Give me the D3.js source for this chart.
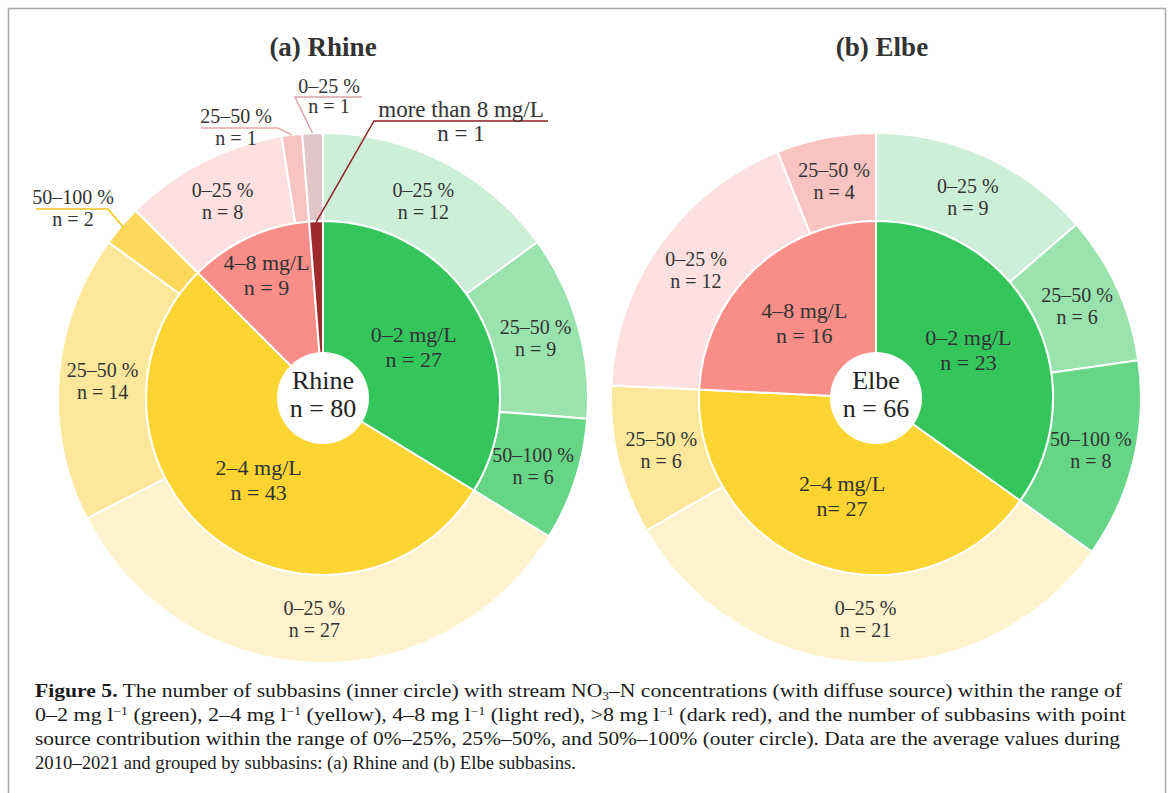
<!DOCTYPE html>
<html><head><meta charset="utf-8">
<script src="https://cdn.jsdelivr.net/npm/d3@7"></script>
<style>
html,body{margin:0;padding:0;background:#fff;}
svg{display:block;}
text{font-family:"Liberation Serif","DejaVu Serif",serif;}
</style></head>
<body>
<svg id="chart" width="1171" height="793"></svg>
<script>
// ---------- DATA ----------
const charts = ["Rhine", "Elbe"];
const chartTitles = ["(a) Rhine", "(b) Elbe"];
const innerCats = ["0–2 mg/L", "2–4 mg/L", "4–8 mg/L", "more than 8 mg/L"];
const outerCats = ["0–25 %", "25–50 %", "50–100 %"];
const rhineInner = [27, 43, 9, 1];
const elbeInner = [23, 27, 16, 0];
const rhineOuter = [[12, 9, 6], [27, 14, 2], [8, 1, 0], [1, 0, 0]];
const elbeOuter = [[9, 6, 8], [21, 6, 0], [12, 4, 0], [0, 0, 0]];
const totals = [80, 66];

// ---------- STYLE ----------
const innerColors = ["#34c65d", "#fdd532", "#f98e88", "#9e2a2b"];
const outerColors = [
  ["#cdeed7", "#9be3ae", "#66d586"],
  ["#fef3cc", "#fde79b", "#fcd95a"],
  ["#fde1e0", "#f7c4c1", "#f7c4c1"],
  ["#e0c6c8", "#e0c6c8", "#e0c6c8"]
];
const textColor = "#333";

const svg = d3.select("#chart");
// frame
svg.append("rect").attr("x", 8.5).attr("y", 8.5).attr("width", 1157).attr("height", 820)
  .attr("fill", "none").attr("stroke", "#a8a8a8").attr("stroke-width", 1.5);

const centers = [[323, 398], [876, 398]];
const titleX = [323, 882];
const rCenter = 46, rInner = 177, rOuter = 265;

const innerArc = d3.arc().innerRadius(0).outerRadius(rInner);
const outerArc = d3.arc().innerRadius(rInner).outerRadius(rOuter);
const pie = d3.pie().sort(null).value(d => d.n);

function polar(cx, cy, r, a) { return [cx + r * Math.sin(a), cy - r * Math.cos(a)]; }

charts.forEach((name, ci) => {
  const innerVals = ci === 0 ? rhineInner : elbeInner;
  const outerVals = ci === 0 ? rhineOuter : elbeOuter;
  const [cx, cy] = centers[ci];
  const g = svg.append("g").attr("transform", `translate(${cx},${cy})`);

  svg.append("text").attr("x", titleX[ci]).attr("y", 56).attr("text-anchor", "middle")
    .attr("font-size", 27).attr("font-weight", "bold").attr("fill", textColor).text(chartTitles[ci]);

  const innerData = innerVals.map((n, i) => ({ n, i, cat: innerCats[i] }));
  const outerData = [];
  outerVals.forEach((arr, i) => arr.forEach((n, j) => outerData.push({ n, i, j, cat: outerCats[j] })));

  const innerArcs = pie(innerData).filter(d => d.data.n > 0);
  const outerArcs = pie(outerData).filter(d => d.data.n > 0);

  g.selectAll("path.outer").data(outerArcs).join("path").attr("class", "outer")
    .attr("d", outerArc).attr("fill", d => outerColors[d.data.i][d.data.j])
    .attr("stroke", "#fff").attr("stroke-width", 2);
  g.selectAll("path.inner").data(innerArcs).join("path").attr("class", "inner")
    .attr("d", innerArc).attr("fill", d => innerColors[d.data.i])
    .attr("stroke", "#fff").attr("stroke-width", 2);

  g.append("circle").attr("r", rCenter).attr("fill", "#fff");
  g.append("text").attr("y", -9).attr("text-anchor", "middle").attr("font-size", 26).attr("fill", "#222").text(name);
  g.append("text").attr("y", 19).attr("text-anchor", "middle").attr("font-size", 26).attr("fill", "#222").text("n = " + totals[ci]);

  // inner labels
  innerArcs.forEach(d => {
    const frac = (d.endAngle - d.startAngle) / (2 * Math.PI);
    if (frac < 0.05) return; // annotated outside
    const mid = (d.startAngle + d.endAngle) / 2;
    const r = frac < 0.15 ? 135 : 104;
    const [x, y] = polar(0, 0, r, mid);
    g.append("text").attr("x", x).attr("y", y - 5).attr("text-anchor", "middle").attr("font-size", 22).attr("fill", textColor).text(d.data.cat);
    const sep = (ci === 1 && d.data.i === 1) ? "n= " : "n = ";
    g.append("text").attr("x", x).attr("y", y + 20).attr("text-anchor", "middle").attr("font-size", 22).attr("fill", textColor).text(sep + d.data.n);
  });
  // outer labels
  outerArcs.forEach(d => {
    const frac = (d.endAngle - d.startAngle) / (2 * Math.PI);
    if (frac < 0.04) return;
    const mid = (d.startAngle + d.endAngle) / 2;
    const [x, y] = polar(0, 0, (rInner + rOuter) / 2, mid);
    g.append("text").attr("x", x).attr("y", y - 4).attr("text-anchor", "middle").attr("font-size", 20).attr("fill", textColor).text(d.data.cat);
    g.append("text").attr("x", x).attr("y", y + 18).attr("text-anchor", "middle").attr("font-size", 20).attr("fill", textColor).text("n = " + d.data.n);
  });

  // external annotations for thin slices (Rhine)
  if (ci === 0) {
    const ann = [
      { arcs: outerArcs, i: 1, j: 2, r: 262, tx: 73, t1: 204, t2: 226, ux0: 36, ux1: 108, uy: 209, col: "#f0c419", fs: 20 },
      { arcs: outerArcs, i: 2, j: 1, r: 265, tx: 236, t1: 123, t2: 145, ux0: 201, ux1: 278, uy: 128, col: "#eaa5a5", fs: 20 },
      { arcs: outerArcs, i: 3, j: 0, r: 265, tx: 329, t1: 93, t2: 113, ux0: 295, ux1: 362, uy: 97, col: "#d9a3a8", fs: 20, leftStart: true },
      { arcs: innerArcs, i: 3, j: null, r: 176, tx: 461, t1: 117, t2: 141, ux0: 374, ux1: 548, uy: 121, col: "#8e1f22", fs: 23, leftStart: true }
    ];
    ann.forEach(a => {
      const d = a.arcs.find(e => e.data.i === a.i && (a.j === null || e.data.j === a.j));
      const mid = (d.startAngle + d.endAngle) / 2;
      const [ax, ay] = polar(cx, cy, a.r, mid);
      const pts = a.leftStart ? [[a.ux1, a.uy], [a.ux0, a.uy], [ax, ay]] : [[a.ux0, a.uy], [a.ux1, a.uy], [ax, ay]];
      svg.append("path").attr("d", d3.line()(pts)).attr("fill", "none").attr("stroke", a.col).attr("stroke-width", 1.5);
      svg.append("text").attr("x", a.tx).attr("y", a.t1).attr("text-anchor", "middle").attr("font-size", a.fs).attr("fill", textColor).text(d.data.cat);
      svg.append("text").attr("x", a.tx).attr("y", a.t2).attr("text-anchor", "middle").attr("font-size", a.fs).attr("fill", textColor).text("n = " + d.data.n);
    });
  }
});

// ---------- CAPTION ----------
const cap = svg.append("g").attr("fill", "#1a1a1a").attr("font-size", 19.5);
function capLine(y, len, parts) {
  const t = cap.append("text").attr("x", 35).attr("y", y).attr("textLength", len).attr("lengthAdjust", "spacingAndGlyphs");
  parts.forEach(p => {
    const s = t.append("tspan").text(p.t);
    if (p.b) s.attr("font-weight", "bold");
    if (p.sub) s.attr("baseline-shift", "-3").attr("font-size", 12);
    if (p.sup) s.attr("baseline-shift", "6").attr("font-size", 12);
  });
}
capLine(697, 1087, [{ t: "Figure 5.", b: true }, { t: " The number of subbasins (inner circle) with stream NO" }, { t: "3", sub: true }, { t: "–N concentrations (with diffuse source) within the range of" }]);
capLine(721, 1091, [{ t: "0–2 mg l" }, { t: "−1", sup: true }, { t: " (green), 2–4 mg l" }, { t: "−1", sup: true }, { t: " (yellow), 4–8 mg l" }, { t: "−1", sup: true }, { t: " (light red), >8 mg l" }, { t: "−1", sup: true }, { t: " (dark red), and the number of subbasins with point" }]);
capLine(745, 1085, [{ t: "source contribution within the range of 0%–25%, 25%–50%, and 50%–100% (outer circle). Data are the average values during" }]);
capLine(769, 541, [{ t: "2010–2021 and grouped by subbasins: (a) Rhine and (b) Elbe subbasins." }]);
</script>
</body></html>
